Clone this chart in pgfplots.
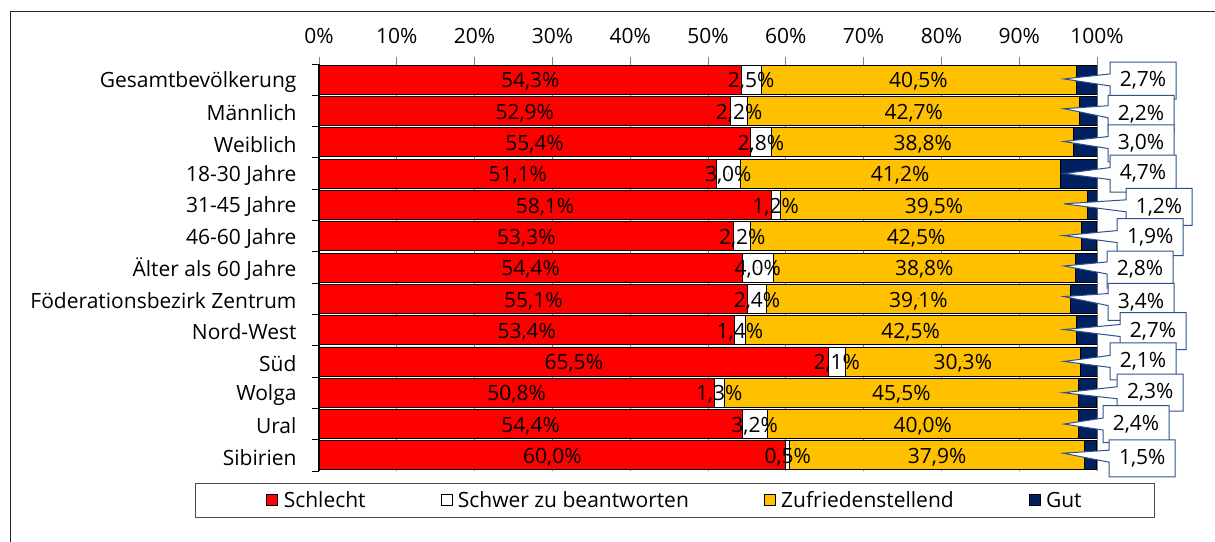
\documentclass[border=0pt]{standalone}
\usepackage{pgfplots}
\pgfplotsset{compat=1.18}
\usepackage{pgfplotstable}
\usepackage{fontspec}
\setmainfont{Open Sans}
\usetikzlibrary{shapes.callouts}
\definecolor{cRed}{RGB}{255,0,0}
\definecolor{cYel}{RGB}{255,192,0}
\definecolor{cNavy}{RGB}{0,32,96}
\definecolor{cBox}{RGB}{47,82,143}
\definecolor{cGrid}{RGB}{128,128,128}
\pgfkeys{/pgf/number format/assume math mode=true}

\pgfplotstableread{
idx a b c d dx dy
0 54.3 2.5 40.5 2.7 46 1
1 52.9 2.2 42.7 2.2 44 3
2 55.4 2.8 38.8 3.0 44 1
3 51.1 3.0 41.2 4.7 46 0
4 58.1 1.2 39.5 1.2 62 2
5 53.3 2.2 42.5 1.9 54 1
6 54.4 4.0 38.8 2.8 43 2
7 55.1 2.4 39.1 3.4 44 3
8 53.4 1.4 42.5 2.7 56 1
9 65.5 2.1 30.3 2.1 46 0
10 50.8 1.3 45.5 2.3 54 0
11 54.4 3.2 40.0 2.4 39 0
12 60.0 0.5 37.9 1.5 46 3
}\data

\begin{document}
\begin{tikzpicture}[font=\fontsize{21bp}{25bp}\selectfont]
\path[use as bounding box] (0,0) rectangle (1215bp,542bp);
\draw[line width=1bp, black!85] (10bp,0) -- (10bp,530bp) -- (1215bp,530bp);
\pgfplotsset{
  common/.style={
    scale only axis, width=778bp, height=407bp,
    at={(319bp,71bp)}, anchor=south west,
    xmin=0, xmax=100, ymin=-0.5, ymax=12.5, y dir=reverse,
  },
  lbl/.style={only marks, mark=*, mark size=0.1bp, mark options={draw=none, fill=none},
    point meta=explicit,
    nodes near coords={\pgfmathprintnumber[fixed,fixed zerofill,precision=1,use comma]{\pgfplotspointmeta}\%}},
}
\begin{axis}[common,
  xbar stacked, bar width=29bp,
  axis x line*=top, axis y line*=left,
  x axis line style={draw=none},
  y axis line style={line width=1.2bp, -},
  tick align=outside, major tick length=7bp,
  xtick={0,10,...,100},
  xticklabel={\pgfmathprintnumber{\tick}\%},
  xticklabel style={yshift=10bp},
  yticklabel style={xshift=-19bp, yshift=-2bp},
  x tick style={cGrid, line width=1bp},
  y tick style={black, line width=1bp},
  xmajorgrids, major grid style={cGrid, line width=1bp},
  ytick={-0.5,0.5,...,12.5}, yticklabels={},
  extra y ticks={0,1,2,3,4,5,6,7,8,9,10,11,12},
  extra y tick labels={Gesamtbevölkerung,Männlich,Weiblich,18-30 Jahre,31-45 Jahre,46-60 Jahre,Älter als 60 Jahre,Föderationsbezirk Zentrum,Nord-West,Süd,Wolga,Ural,Sibirien},
  extra y tick style={major tick length=0pt},
  legend columns=4,
  legend style={at={(-0.1594,-0.0295)}, anchor=north west, draw=black!70, line width=1bp,
    inner xsep=71bp, inner ysep=6bp, font=\fontsize{21bp}{25bp}\selectfont,
    /tikz/every even column/.append style={column sep=73bp}},
  legend image code/.code={\draw[#1, draw=black, line width=0.6bp] (0bp,-5.5bp) rectangle (11bp,5.5bp); \path[draw=none,fill=none] (0bp,0bp) -- (15bp,0bp);},
]
\addplot[fill=cRed, draw=black, line width=0.8bp] table[x=a, y=idx] {\data};
\addplot[fill=white, draw=black, line width=0.8bp] table[x=b, y=idx] {\data};
\addplot[fill=cYel, draw=black, line width=0.8bp] table[x=c, y=idx] {\data};
\addplot[fill=cNavy, draw=black, line width=0.8bp] table[x=d, y=idx] {\data};
\legend{Schlecht, Schwer zu beantworten, Zufriedenstellend, Gut}
\end{axis}
\begin{axis}[common, hide axis, clip=false,
  nodes near coords style={anchor=center, text=black, inner sep=0pt}]
\addplot[lbl, nodes near coords style={yshift=-2bp}] table[x expr=\thisrow{a}/2, y=idx, meta=a] {\data};
\addplot[lbl, nodes near coords style={yshift=-2bp}] table[x expr=\thisrow{a}+\thisrow{b}/2, y=idx, meta=b] {\data};
\addplot[lbl, nodes near coords style={yshift=-2bp}] table[x expr=\thisrow{a}+\thisrow{b}+\thisrow{c}/2, y=idx, meta=c] {\data};
\addplot[lbl,
  visualization depends on={\thisrow{dx} \as \dx},
  visualization depends on={\thisrow{dy} \as \dy},
  nodes near coords style={anchor=center, rectangle callout, draw=cBox, fill=white,
    line width=1bp, minimum width=66bp, minimum height=37bp, inner sep=0pt,
    xshift=\dx bp, yshift=-\dy bp, callout relative pointer={(-\dx bp,\dy bp)},
    callout pointer width=12bp}]
  table[x expr=\thisrow{a}+\thisrow{b}+\thisrow{c}+\thisrow{d}, y=idx, meta=d] {\data};
\end{axis}
\end{tikzpicture}
\end{document}
